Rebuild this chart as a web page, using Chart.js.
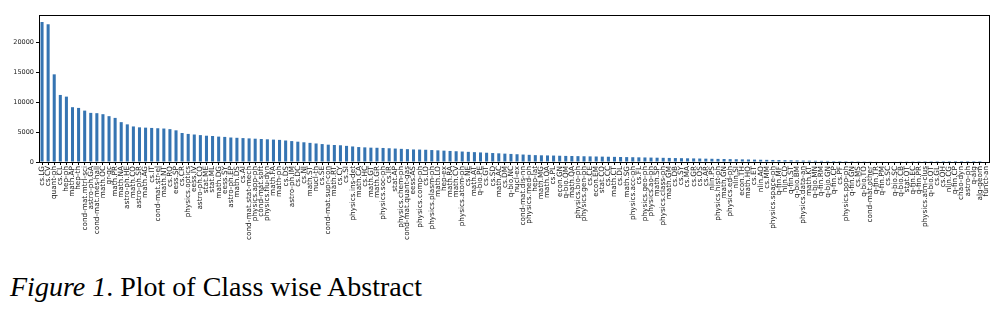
<!DOCTYPE html>
<html>
<head>
<meta charset="utf-8">
<script src="https://cdn.jsdelivr.net/npm/chart.js@4"></script>
<style>
  body { margin: 0; background: #fff; }
  #wrap { position: absolute; left: 0; top: 0; width: 1000px; height: 260px; }
  #caption { position: absolute; left: 10px; top: 271px; font-family: 'Liberation Serif', serif; font-size: 28px; color: #000; white-space: nowrap; }
</style>
</head>
<body>
<div id="wrap"><canvas id="chart"></canvas></div>
<div id="caption"><i>Figure 1</i>. Plot of Class wise Abstract</div>
<script>
const categories = [
  'cs.LG', 'cs.CV', 'quant-ph', 'cs.CL', 'hep-ph', 'math.AP', 'hep-th', 'cond-mat.mtrl-sci',
  'astro-ph.GA', 'cond-mat.mes-hall', 'math.OC', 'gr-qc', 'math.PR', 'math.NA', 'astro-ph.HE',
  'math.CO', 'astro-ph.SR', 'math.AG', 'cs.IT', 'cond-mat.str-el', 'math.NT', 'cs.RO', 'eess.SP',
  'cs.CR', 'physics.optics', 'eess.IV', 'astro-ph.CO', 'stat.ME', 'stat.ML', 'math.DG', 'eess.SY',
  'astro-ph.EP', 'math.DS', 'cs.AI', 'cond-mat.stat-mech', 'physics.app-ph', 'cond-mat.soft',
  'physics.flu-dyn', 'math.FA', 'math-ph', 'cs.DS', 'astro-ph.IM', 'cs.DC', 'cs.NI', 'math.ST',
  'nucl-th', 'cs.SE', 'cond-mat.supr-con', 'math.RT', 'cs.CY', 'cs.SI', 'physics.ins-det',
  'math.CA', 'cs.HC', 'math.GT', 'math.GR', 'physics.soc-ph', 'cs.IR', 'stat.AP', 'physics.chem-ph',
  'cond-mat.quant-gas', 'eess.AS', 'physics.comp-ph', 'cs.LO', 'physics.plasm-ph', 'math.LO',
  'hep-ex', 'math.RA', 'math.CV', 'physics.atom-ph', 'cs.NE', 'math.AT', 'q-bio.PE', 'cs.GT',
  'cs.SD', 'math.AC', 'cs.DM', 'q-bio.NC', 'nucl-ex', 'cond-mat.dis-nn', 'physics.med-ph',
  'hep-lat', 'math.MG', 'math.OA', 'cs.PL', 'econ.GN', 'q-bio.QM', 'math.QA', 'physics.bio-ph',
  'physics.gen-ph', 'cs.CE', 'econ.EM', 'stat.CO', 'cs.CC', 'math.CT', 'cs.DL', 'math.SG',
  'physics.acc-ph', 'cs.FL', 'physics.geo-ph', 'physics.ao-ph', 'math.SP', 'physics.class-ph',
  'math.GM', 'cs.DB', 'cs.SY', 'cs.MA', 'cs.GR', 'cs.OS', 'cs.AR', 'nlin.PS', 'physics.hist-ph',
  'math.GN', 'physics.ed-ph', 'nlin.SI', 'econ.TH', 'math.HO', 'cs.ET', 'nlin.AO', 'cs.MM',
  'physics.space-ph', 'q-fin.MF', 'nlin.CD', 'q-fin.ST', 'q-bio.BM', 'physics.data-an', 'math.KT',
  'q-bio.MN', 'q-fin.RM', 'q-bio.GN', 'q-fin.CP', 'cs.PF', 'physics.pop-ph', 'q-fin.GN', 'cs.MS',
  'q-bio.TO', 'cond-mat.other', 'q-fin.TR', 'q-fin.PM', 'cs.SC', 'q-bio.SC', 'q-bio.CB', 'stat.OT',
  'q-fin.EC', 'q-fin.PR', 'physics.atm-clus', 'q-bio.OT', 'cs.GL', 'cs.OH', 'nlin.CG', 'q-fin.CP',
  'chao-dyn', 'astro-ph', 'q-alg', 'alg-geom', 'funct-an'
];

const abstractCounts = [
  23430, 23050, 14670, 11220, 10940, 9170, 9050, 8600, 8220, 8170, 8000, 7670, 7380, 6670,
  6300, 5950, 5800, 5750, 5700, 5650, 5600, 5500, 5300, 4850, 4700, 4600, 4500, 4400, 4350,
  4250, 4200, 4100, 4050, 4000, 3950, 3900, 3850, 3800, 3750, 3700, 3600, 3500, 3400, 3300,
  3200, 3100, 3000, 2900, 2850, 2800, 2700, 2600, 2500, 2450, 2400, 2380, 2350, 2300, 2250,
  2200, 2150, 2100, 2080, 2050, 2000, 1950, 1900, 1850, 1800, 1750, 1700, 1650, 1600, 1550,
  1500, 1450, 1400, 1350, 1300, 1250, 1200, 1150, 1120, 1100, 1080, 1050, 1020, 1000, 980,
  960, 940, 920, 900, 880, 860, 840, 820, 800, 780, 760, 740, 720, 700, 680, 660, 640, 620,
  600, 580, 560, 540, 520, 500, 480, 460, 440, 420, 400, 380, 360, 340, 320, 300, 280, 260,
  240, 220, 200, 190, 180, 170, 160, 150, 140, 130, 120, 110, 100, 90, 80, 70, 60, 50, 40,
  30, 25, 20, 15, 10, 8, 6, 4, 3, 2, 1
];

const yTicks = [0, 5000, 10000, 15000, 20000];

const framePlugin = {
  id: 'frame',
  afterDraw(chart) {
    const { ctx, chartArea: a } = chart;
    ctx.save();
    ctx.strokeStyle = '#000';
    ctx.lineWidth = 1;
    ctx.strokeRect(Math.round(a.left) + 0.5, Math.round(a.top) + 0.5,
      Math.round(a.right - a.left), Math.round(a.bottom - a.top));
    ctx.restore();
  }
};

new Chart(document.getElementById('chart'), {
  type: 'bar',
  data: {
    labels: categories,
    datasets: [{
      data: abstractCounts,
      backgroundColor: '#3574b2',
      barPercentage: 0.5,
      categoryPercentage: 1.0
    }]
  },
  options: {
    responsive: true,
    maintainAspectRatio: false,
    animation: false,
    layout: { padding: { left: 0, top: 15, right: 11, bottom: 0 } },
    plugins: { legend: { display: false }, tooltip: { enabled: false } },
    scales: {
      x: {
        offset: true,
        grid: { display: true, offset: false, drawOnChartArea: false, drawTicks: true, tickLength: 3, color: '#000' },
        border: { display: false },
        ticks: {
          autoSkip: false, maxRotation: 90, minRotation: 90, padding: 1,
          color: '#222', font: { family: 'DejaVu Sans', size: 7.3 }
        },
        afterFit(scale) { scale.height = 98; }
      },
      y: {
        min: 0,
        max: 24600,
        grid: { display: true, drawOnChartArea: false, drawTicks: true, tickLength: 3, color: '#000' },
        border: { display: false },
        ticks: {
          stepSize: 5000, padding: 2,
          color: '#222', font: { family: 'DejaVu Sans', size: 6.5 },
          callback: v => String(v)
        },
        afterBuildTicks(scale) {
          scale.ticks = yTicks.map(v => ({ value: v }));
        },
        afterFit(scale) { scale.width = 39; }
      }
    }
  },
  plugins: [framePlugin]
});
</script>
</body>
</html>
